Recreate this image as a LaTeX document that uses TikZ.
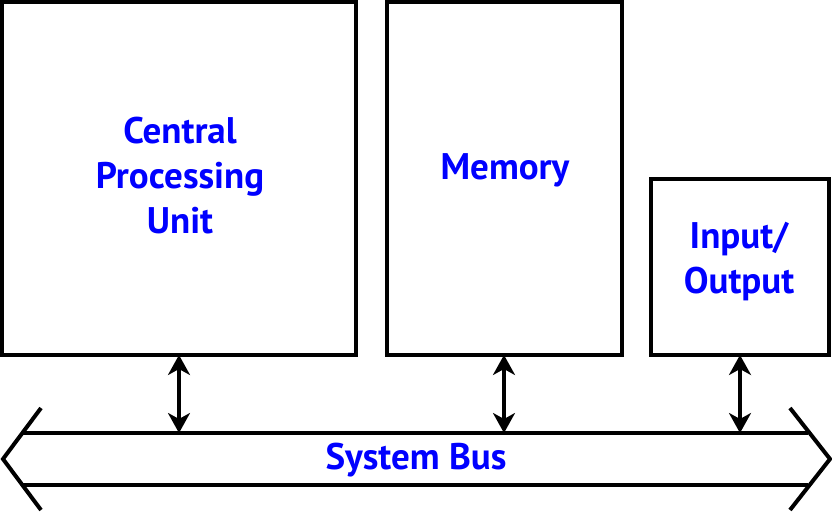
\documentclass[tikz,border=0pt]{standalone}
\usepackage{fontspec}
\setmainfont{PT Sans}
\usetikzlibrary{arrows.meta}

\begin{document}
\begin{tikzpicture}[x=1pt,y=-1pt,
        >={Stealth[length=20pt,width=22pt,inset=6pt]},
        unit/.style={draw,line width=4pt,inner sep=0pt,outer sep=0pt},
        unit label/.style={text=blue,font=\fontsize{37}{45}\selectfont\bfseries,align=center},
        bus line/.style={line width=4pt},
        bus arrow/.style={<->,line width=3.2pt}]

    \useasboundingbox (0,0) rectangle (832,511);

    % units
    \node[unit,minimum width=354pt,minimum height=353pt] (cpu) at (179,178.5) {};
    \node[unit,minimum width=235pt,minimum height=353pt] (mem) at (504,178.5) {};
    \node[unit,minimum width=178pt,minimum height=176pt] (io) at (740,267) {};

    \node[unit label] (cpu label) at (180,176) {Central\\Processing\\Unit};
    \node[unit label] (mem label) at (505,170) {Memory};
    \node[unit label] (io label) at (739,262) {Input/\\Output};

    % system bus
    \coordinate (L) at (3,459);
    \coordinate (R) at (830,459);
    \coordinate (bus top) at (0,433);
    \draw[bus line] (22,433) -- (808,433);
    \draw[bus line] (22,485) -- (808,485);
    \draw[bus line] (41,408) -- (L) -- (41,510);
    \draw[bus line] (790,408) -- (R) -- (790,510);
    \node[unit label] (bus label) at (416,460) {System Bus};

    % connections
    \draw[bus arrow] (cpu.south) -- (cpu.south |- bus top);
    \draw[bus arrow] (mem.south) -- (mem.south |- bus top);
    \draw[bus arrow] (io.south) -- (io.south |- bus top);
\end{tikzpicture}
\end{document}
